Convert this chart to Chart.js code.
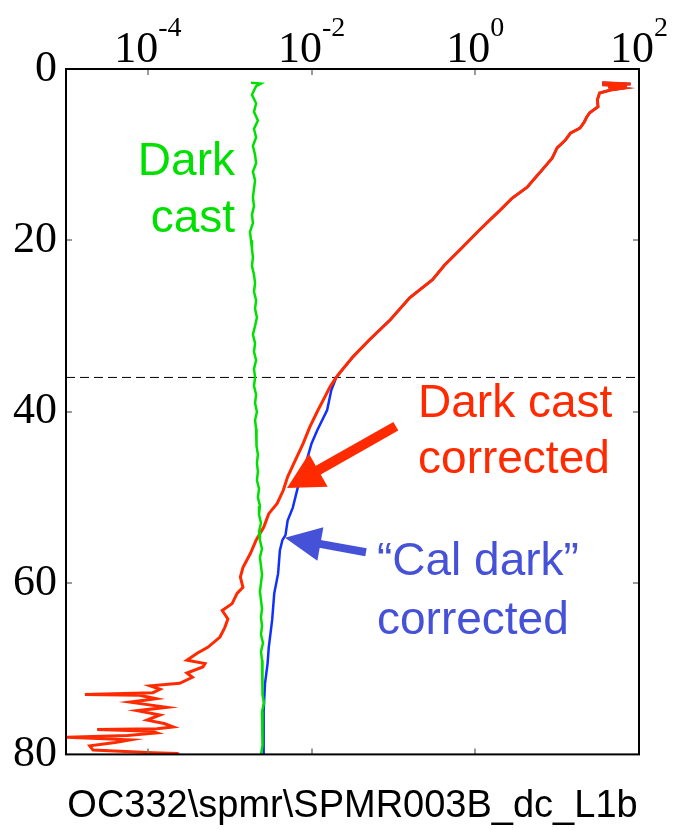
<!DOCTYPE html>
<html>
<head>
<meta charset="utf-8">
<script src="https://cdn.jsdelivr.net/npm/chart.js@4.4.0/dist/chart.umd.min.js"></script>
<style>
  html, body { margin: 0; padding: 0; background: #fff; }
  #wrap { width: 675px; height: 830px; }
</style>
</head>
<body>
<div id="wrap"><canvas id="profileChart"></canvas></div>
<script>
// depth (m) vs. signal
// upper part: both corrections give the same curve
const upperDepth = [1.6, 1.75, 1.85, 1.95, 2.1, 2.25, 2.45, 2.8, 3.6, 4.4, 5.1, 5.6, 6.2, 6.9, 7.5, 8.3, 9.2, 10.4, 11.6, 12.7, 13.8, 15.1, 16.5, 17.6, 19.0, 21.1, 22.9, 24.6, 26.7, 29.3, 31.6, 33.6, 35.4, 36.0];
const upperValue = [35.5, 79, 35.5, 71, 42, 63, 45, 33, 31, 31.6, 25, 23, 21.4, 19, 14.5, 12.6, 10, 8.7, 6.8, 5.4, 4.3, 2.8, 2.0, 1.51, 1.07, 0.65, 0.42, 0.30, 0.158, 0.091, 0.051, 0.032, 0.0224, 0.020];

// dark cast corrected, below the dashed line
const redDepth = [37.1, 38.3, 39.8, 41.8, 43.7, 45.7, 47.6, 49.2, 50.7, 51.9, 53.5, 55.0, 56.5, 58.2, 59.3, 60.5, 61.2, 62.4, 63.2, 64.2, 65.2, 66.3, 67.5, 68.2, 69.0, 69.4, 69.8, 70.5, 71.0, 71.7, 72.0, 72.4, 72.8, 73.0, 73.1, 73.5, 73.9, 74.5, 74.9, 75.4, 76.0, 76.4, 76.8, 77.0, 77.1, 77.3, 77.5, 77.8, 78.0, 78.3, 78.6, 79.0, 79.5, 79.8, 79.9, 80.0];
const redValue = [0.0168, 0.0145, 0.0120, 0.0095, 0.0079, 0.0063, 0.0051, 0.0045, 0.0038, 0.0030, 0.0026, 0.0021, 0.0018, 0.00145, 0.00135, 0.00145, 0.00123, 0.00107, 0.00081, 0.00095, 0.00087, 0.00076, 0.00054, 0.00040, 0.00030, 0.00050, 0.00047, 0.00030, 0.00035, 0.000245, 0.000107, 0.000141, 0.000115, 0.000017, 0.0000794, 0.000126, 0.0000603, 0.000170, 0.0000741, 0.000141, 0.0000977, 0.000158, 0.000204, 0.000129, 0.000024, 0.000112, 0.000129, 0.0000562, 0.0000102, 0.0000603, 0.0000398, 0.0000195, 0.0000214, 0.000115, 0.000229, 0.00024];

// "cal dark" corrected, below the dashed line
const blueDepth = [37.5, 39.8, 42.2, 43.7, 45.7, 48.8, 51.2, 52.7, 54.4, 55.0, 56.2, 58.9, 61.2, 64.3, 67.5, 69.4, 71.7, 74.9, 77.5, 80.0];
const blueValue = [0.0174, 0.0155, 0.0117, 0.0100, 0.0087, 0.0068, 0.0059, 0.0051, 0.0048, 0.0044, 0.0041, 0.0039, 0.0035, 0.0033, 0.0030, 0.0029, 0.0027, 0.0026, 0.0026, 0.0026];

// dark cast
const greenDepth = [1.6, 1.7, 2, 3, 4, 5, 6, 7, 8, 9, 10, 11, 12, 13, 14, 15, 16, 17, 18, 19, 20, 21, 22, 23, 24, 25, 26, 27, 28, 29, 30, 31, 32, 33, 34, 35, 36, 37, 38, 39, 40, 41, 42, 43, 44, 45, 46, 47, 48, 49, 50, 51, 52, 53, 54, 55, 56, 57, 58, 59, 60, 61, 62, 63, 64, 65, 66, 67, 68, 69, 70, 71, 72, 73, 74, 75, 76, 77, 78, 79, 80];
const greenValue = [0.00182, 0.00241, 0.00210, 0.00187, 0.00210, 0.00198, 0.00221, 0.00198, 0.00210, 0.00192, 0.00204, 0.00210, 0.00192, 0.00204, 0.00198, 0.00192, 0.00198, 0.00187, 0.00192, 0.00177, 0.00182, 0.00187, 0.00192, 0.00187, 0.00198, 0.00204, 0.00198, 0.00210, 0.00204, 0.00215, 0.00204, 0.00192, 0.00204, 0.00198, 0.00210, 0.00198, 0.00204, 0.00198, 0.00210, 0.00204, 0.00215, 0.00204, 0.00210, 0.00215, 0.00210, 0.00221, 0.00215, 0.00221, 0.00215, 0.00228, 0.00221, 0.00234, 0.00228, 0.00241, 0.00228, 0.00234, 0.00248, 0.00234, 0.00241, 0.00248, 0.00241, 0.00234, 0.00241, 0.00248, 0.00241, 0.00248, 0.00241, 0.00255, 0.00241, 0.00248, 0.00255, 0.00248, 0.00255, 0.00248, 0.00262, 0.00248, 0.00255, 0.00248, 0.00255, 0.00248, 0.00241];

const dashDepth = 36;
const xTicks = [1e-4, 1e-2, 1, 100];
const yTicks = [0, 20, 40, 60, 80];

const RED = '#ff2a00';
const BLUE = '#1030ff';
const GREEN = '#00e000';
const NOTE_BLUE = '#4552d8';

function toPoints(depths, values) {
  return depths.map((d, i) => ({ x: values[i], y: d }));
}

// annotations, placed in data coordinates
const notes = [
  { text: 'Dark', x: 0.00116, y: 12.4, color: GREEN, align: 'right' },
  { text: 'cast', x: 0.00116, y: 19.05, color: GREEN, align: 'right' },
  { text: 'Dark cast', x: 0.2, y: 40.6, color: RED, align: 'left' },
  { text: 'corrected', x: 0.2, y: 47.2, color: RED, align: 'left' },
  { text: '\u201cCal dark\u201d', x: 0.063, y: 59.1, color: NOTE_BLUE, align: 'left' },
  { text: 'corrected', x: 0.063, y: 65.9, color: NOTE_BLUE, align: 'left' }
];
const arrows = [
  { from: [0.107, 41.7], to: [0.00501, 48.9], color: RED, shaft: 10, head: 36, half: 19 },
  { from: [0.0462, 56.4], to: [0.00473, 54.7], color: NOTE_BLUE, shaft: 8, head: 36, half: 17 }
];

const profileDecor = {
  id: 'profileDecor',
  afterDraw(chart) {
    const { ctx, chartArea: a } = chart;
    const xs = chart.scales.x, ys = chart.scales.y;
    ctx.save();

    // inward tick marks on all four sides
    ctx.strokeStyle = '#7a7a7a';
    ctx.lineWidth = 1.5;
    ctx.beginPath();
    xTicks.forEach(v => {
      const px = Math.round(xs.getPixelForValue(v));
      if (px > a.right - 3) return;
      ctx.moveTo(px, a.top); ctx.lineTo(px, a.top + 6);
      ctx.moveTo(px, a.bottom); ctx.lineTo(px, a.bottom - 6);
    });
    yTicks.forEach(v => {
      if (v === 0 || v === 80) return;
      const py = Math.round(ys.getPixelForValue(v));
      ctx.moveTo(a.left, py); ctx.lineTo(a.left + 6, py);
      ctx.moveTo(a.right, py); ctx.lineTo(a.right - 6, py);
    });
    ctx.stroke();

    // frame
    ctx.strokeStyle = '#000';
    ctx.lineWidth = 2;
    ctx.strokeRect(a.left, a.top, a.width, a.height);

    // top axis labels, 10 with a raised exponent
    ctx.fillStyle = '#000';
    ctx.textBaseline = 'alphabetic';
    ctx.textAlign = 'left';
    xTicks.forEach(v => {
      const exp = String(Math.round(Math.log10(v)));
      ctx.font = '44px "Liberation Serif"';
      const wBase = ctx.measureText('10').width;
      ctx.font = '28px "Liberation Serif"';
      const wExp = ctx.measureText(exp).width;
      const start = xs.getPixelForValue(v) - (wBase + wExp) / 2;
      ctx.font = '44px "Liberation Serif"';
      ctx.fillText('10', start, 62);
      ctx.font = '28px "Liberation Serif"';
      ctx.fillText(exp, start + wBase, 36);
    });

    // notes
    ctx.font = '46px "Liberation Sans"';
    notes.forEach(n => {
      ctx.fillStyle = n.color;
      ctx.textAlign = n.align;
      ctx.fillText(n.text, xs.getPixelForValue(n.x), ys.getPixelForValue(n.y));
    });

    // arrows
    arrows.forEach(ar => {
      const x0 = xs.getPixelForValue(ar.from[0]), y0 = ys.getPixelForValue(ar.from[1]);
      const x1 = xs.getPixelForValue(ar.to[0]), y1 = ys.getPixelForValue(ar.to[1]);
      const len = Math.hypot(x1 - x0, y1 - y0);
      const ux = (x1 - x0) / len, uy = (y1 - y0) / len;
      const bx = x1 - ux * ar.head, by = y1 - uy * ar.head;
      ctx.strokeStyle = ar.color;
      ctx.fillStyle = ar.color;
      ctx.lineWidth = ar.shaft;
      ctx.lineCap = 'butt';
      ctx.beginPath();
      ctx.moveTo(x0, y0);
      ctx.lineTo(bx + ux * 2, by + uy * 2);
      ctx.stroke();
      ctx.beginPath();
      ctx.moveTo(x1, y1);
      ctx.lineTo(bx - uy * ar.half, by + ux * ar.half);
      ctx.lineTo(bx + uy * ar.half, by - ux * ar.half);
      ctx.closePath();
      ctx.fill();
    });
    ctx.restore();
  }
};

const lineStyle = { showLine: true, pointRadius: 0, tension: 0, fill: false };

new Chart(document.getElementById('profileChart'), {
  type: 'scatter',
  data: {
    datasets: [
      Object.assign({ data: toPoints(greenDepth, greenValue), borderColor: GREEN, borderWidth: 2.5 }, lineStyle),
      Object.assign({ data: toPoints(upperDepth.concat(redDepth), upperValue.concat(redValue)), borderColor: RED, borderWidth: 3 }, lineStyle),
      Object.assign({ data: toPoints(upperDepth.concat(blueDepth), upperValue.concat(blueValue)), borderColor: BLUE, borderWidth: 2.5 }, lineStyle),
      Object.assign({ data: [{ x: 1e-5, y: dashDepth }, { x: 100, y: dashDepth }], borderColor: '#000', borderWidth: 1, borderDash: [9, 5] }, lineStyle)
    ]
  },
  options: {
    responsive: true,
    maintainAspectRatio: false,
    animation: false,
    layout: { padding: { left: 0, right: 36, top: 0, bottom: 0 } },
    plugins: {
      legend: { display: false },
      tooltip: { enabled: false },
      title: {
        display: true,
        position: 'bottom',
        fullSize: false,
        text: 'OC332\\spmr\\SPMR003B_dc_L1b',
        color: '#000',
        font: { family: '"Liberation Sans"', size: 38, weight: 'normal' },
        padding: { top: 29, bottom: 1 }
      }
    },
    scales: {
      x: {
        type: 'logarithmic',
        position: 'top',
        min: 1e-5,
        max: 100,
        afterBuildTicks: s => { s.ticks = xTicks.map(v => ({ value: v })); },
        afterFit: s => { s.height = 69; },
        ticks: { display: false },
        grid: { display: false, drawTicks: false },
        border: { display: false }
      },
      y: {
        type: 'linear',
        reverse: true,
        min: 0,
        max: 80,
        afterBuildTicks: s => { s.ticks = yTicks.map(v => ({ value: v })); },
        afterFit: s => { s.width = 66; },
        ticks: {
          color: '#000',
          padding: 9,
          font: { family: '"Liberation Serif"', size: 44 }
        },
        grid: { display: false, drawTicks: false },
        border: { display: false }
      }
    }
  },
  plugins: [profileDecor]
});
</script>
</body>
</html>
